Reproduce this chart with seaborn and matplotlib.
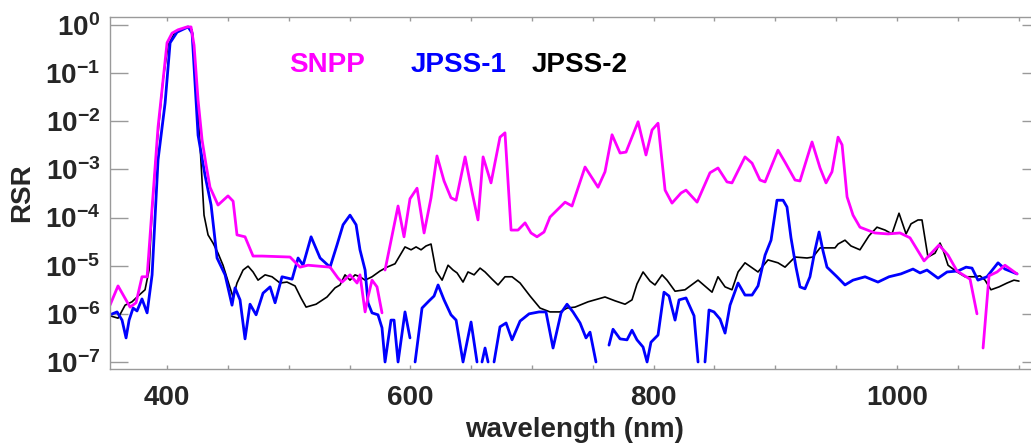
import numpy as np
import pandas as pd
import matplotlib
matplotlib.use("Agg")
import matplotlib.pyplot as plt
import seaborn as sns
from matplotlib.ticker import FixedLocator, FuncFormatter, MultipleLocator, NullFormatter

# ---------------- data (wavelength in nm, log10 of RSR; NaN = gap) ----------------
snpp_nm = [353.1, 359.7, 369.6, 374.5, 379.4, 383.6, 387.7, 392.6, 400.0, 404.1,
           409.0, 416.4, 419.7, 422.2, 425.5, 428.8, 432.1, 435.3, 441.9, 450.1,
           454.3, 457.5, 464.1, 470.7, 478.1, 501.1, 509.3, 515.9, 534.0, 540.6,
           543.9, 550.4, 556.2, 558.6, 562.8, 565.2, 568.5, 572.6, 576.7, 578.0,
           579.2, 589.9, 594.8, 599.7, 605.5, 611.3, 617.0, 621.9, 627.7, 633.4,
           637.6, 645.0, 650.7, 655.6, 659.8, 666.3, 673.7, 677.8, 682.8, 688.5,
           694.3, 699.2, 704.1, 709.9, 714.8, 727.2, 732.9, 743.6, 754.3, 760.0,
           765.8, 772.4, 777.3, 787.2, 793.7, 798.7, 803.6, 809.4, 815.1, 822.5,
           826.6, 835.7, 846.3, 852.9, 860.3, 864.4, 875.1, 880.9, 887.4, 891.6,
           902.2, 908.0, 916.2, 920.3, 930.2, 936.8, 941.7, 946.6, 951.6, 954.9,
           959.0, 963.9, 969.6, 981.9, 992.7, 1002.5, 1010.7, 1022.3, 1034.6, 1042.0,
           1049.4, 1060.1, 1065.8, 1068.0, 1070.8, 1075.7, 1082.3, 1088.8, 1098.7]
snpp_log = [-5.82, -5.42, -5.86, -5.77, -5.23, -5.23, -3.80, -2.12, -0.37, -0.17,
            -0.10, -0.04, -0.04, -0.42, -1.56, -2.39, -2.91, -3.37, -3.74, -3.55,
            -3.66, -4.36, -4.40, -4.80, -4.80, -4.82, -5.03, -4.99, -5.03, -5.26,
            -5.34, -5.19, -5.36, -5.19, -5.96, -5.65, -5.30, -5.44, -5.98, np.nan,
            -5.09, -3.76, -4.40, -3.61, -3.39, -4.32, -3.59, -2.72, -3.24, -3.59,
            -3.64, -2.74, -3.47, -4.05, -2.74, -3.28, -2.33, -2.24, -4.26, -4.26,
            -4.11, -4.32, -4.40, -4.30, -3.99, -3.68, -3.76, -2.95, -3.37, -3.05,
            -2.28, -2.66, -2.64, -2.01, -2.70, -2.18, -2.04, -3.43, -3.70, -3.49,
            -3.43, -3.68, -3.07, -2.97, -3.26, -3.28, -2.74, -2.87, -3.22, -3.26,
            -2.60, -2.85, -3.22, -3.24, -2.43, -2.97, -3.28, -3.05, -2.33, -2.49,
            -3.57, -3.95, -4.20, -4.32, -4.34, -4.32, -4.42, -4.90, -4.57, -4.78,
            -5.11, -5.28, -6.00, np.nan, -6.71, -5.21, -5.13, -4.99, -5.17]

jpss1_nm = [353.1, 358.9, 363.0, 366.3, 368.8, 372.1, 375.3, 379.4, 383.6, 387.7,
            392.6, 398.4, 402.5, 408.2, 417.3, 420.6, 425.5, 431.2, 436.2, 441.1,
            447.7, 453.4, 455.9, 460.0, 464.1, 468.2, 473.2, 478.9, 484.7, 488.8,
            494.5, 502.8, 507.7, 511.8, 518.4, 525.8, 534.0, 539.7, 544.7, 550.4,
            555.4, 558.6, 562.8, 565.2, 568.5, 573.4, 576.7, 579.2, 584.1, 586.6,
            589.9, 595.6, 599.7, 601.5, 603.9, 609.6, 615.4, 619.5, 622.8, 627.7,
            633.4, 637.6, 643.3, 649.9, 654.8, 657.0, 658.9, 661.4, 663.9, 666.0,
            668.8, 673.7, 678.7, 683.6, 690.2, 697.6, 705.8, 711.5, 717.3, 723.9,
            728.8, 733.7, 739.5, 744.4, 747.7, 752.6, 758.0, 763.3, 766.6, 772.4,
            778.1, 782.2, 786.3, 791.3, 794.6, 797.8, 803.6, 808.5, 812.6, 817.6,
            820.9, 826.6, 833.2, 836.5, 839.0, 842.2, 845.5, 849.6, 854.6, 858.7,
            862.8, 869.4, 875.1, 880.9, 885.8, 891.6, 896.5, 901.4, 906.4, 909.6,
            912.9, 917.0, 920.3, 924.4, 928.5, 932.7, 936.0, 939.2, 942.5, 950.7,
            957.3, 963.9, 973.8, 984.4, 993.5, 1003.3, 1013.2, 1019.0, 1024.7, 1033.8,
            1041.2, 1050.2, 1056.8, 1061.7, 1066.6, 1074.0, 1083.1, 1088.8, 1098.7]
jpss1_log = [-6.02, -5.96, -6.13, -6.50, -6.13, -5.88, -5.94, -5.69, -5.98, -5.19,
             -2.80, -1.62, -0.37, -0.15, -0.04, -0.17, -2.29, -3.12, -3.74, -4.84,
             -5.19, -5.82, -5.46, -5.71, -6.52, -5.80, -6.02, -5.57, -5.44, -5.77,
             -5.23, -5.28, -4.84, -4.99, -4.40, -4.84, -5.03, -4.57, -4.15, -3.95,
             -4.15, -4.67, -5.09, -5.77, -5.98, -6.02, -6.29, -7.00, -6.13, -6.13,
             -7.00, -5.96, -6.50, np.nan, -7.00, -5.88, -5.73, -5.63, -5.40, -5.71,
             -6.02, -6.13, -7.00, -6.17, -7.00, np.nan, -7.00, -6.71, -7.00, np.nan,
             -7.00, -6.27, -6.19, -6.54, -6.15, -6.00, -5.96, -5.96, -6.71, -5.98,
             -5.80, -5.96, -6.19, -6.50, -6.38, -7.00, np.nan, -6.65, -6.32, -6.52,
             -6.54, -6.34, -6.54, -6.69, -7.00, -6.59, -6.44, -5.55, -5.63, -6.13,
             -5.71, -5.67, -6.04, -7.00, np.nan, -7.00, -5.92, -5.96, -6.11, -6.40,
             -5.82, -5.36, -5.61, -5.61, -5.42, -4.78, -4.47, -3.64, -3.64, -3.78,
             -4.42, -5.03, -5.44, -5.48, -5.23, -4.67, -4.30, -4.69, -5.03, -5.23,
             -5.40, -5.30, -5.23, -5.34, -5.23, -5.17, -5.07, -5.15, -5.09, -5.26,
             -5.13, -5.11, -5.03, -5.05, -5.30, -5.23, -4.94, -5.07, -5.17]

jpss2_nm = [353.1, 359.7, 365.5, 371.2, 376.2, 381.9, 385.2, 387.7, 391.8, 396.7,
            400.8, 406.6, 416.4, 420.6, 423.8, 427.1, 430.4, 433.7, 437.8, 441.9,
            446.0, 451.8, 454.3, 457.5, 462.5, 466.6, 470.7, 474.8, 480.6, 486.3,
            492.9, 498.6, 505.2, 510.1, 514.3, 522.5, 531.5, 538.1, 542.2, 546.3,
            550.4, 554.5, 558.6, 562.8, 568.5, 575.1, 580.8, 587.4, 595.6, 600.6,
            604.7, 608.8, 612.9, 617.0, 621.1, 626.1, 631.0, 635.1, 638.4, 643.3,
            647.4, 652.4, 657.3, 661.4, 667.2, 672.1, 677.8, 683.6, 690.2, 698.4,
            706.6, 714.8, 723.0, 728.8, 735.4, 746.1, 760.0, 768.3, 776.5, 782.2,
            786.3, 791.3, 797.0, 801.1, 806.9, 811.0, 817.6, 825.8, 836.5, 848.0,
            852.9, 858.7, 864.4, 869.4, 875.1, 885.8, 894.0, 902.2, 908.0, 916.2,
            926.1, 931.0, 936.8, 943.3, 949.1, 951.6, 957.3, 962.2, 969.6, 977.0,
            983.6, 990.2, 995.9, 1001.7, 1007.5, 1011.6, 1017.3, 1020.6, 1025.5, 1031.3,
            1035.4, 1037.9, 1042.0, 1049.4, 1056.0, 1064.2, 1068.3, 1072.4, 1077.3, 1083.9,
            1090.5, 1096.2, 1100.3]
jpss2_log = [-6.04, -6.09, -5.82, -5.75, -5.63, -5.50, -5.09, -3.84, -2.45, -1.14,
             -0.42, -0.15, -0.04, -0.10, -1.14, -2.49, -3.95, -4.36, -4.53, -4.74,
             -4.99, -5.46, -5.65, -5.36, -5.09, -5.01, -5.13, -5.30, -5.19, -5.23,
             -5.36, -5.34, -5.42, -5.67, -5.86, -5.80, -5.65, -5.46, -5.40, -5.19,
             -5.30, -5.19, -5.23, -5.30, -5.23, -5.11, -5.03, -4.96, -4.61, -4.67,
             -4.61, -4.67, -4.59, -4.55, -5.11, -5.30, -4.99, -5.09, -5.15, -5.34,
             -5.13, -5.19, -5.05, -5.13, -5.28, -5.40, -5.23, -5.23, -5.36, -5.63,
             -5.88, -5.96, -5.96, -5.88, -5.86, -5.75, -5.65, -5.73, -5.80, -5.71,
             -5.38, -5.13, -5.32, -5.40, -5.19, -5.30, -5.53, -5.50, -5.30, -5.55,
             -5.23, -5.44, -5.50, -5.13, -4.94, -5.13, -4.88, -4.94, -5.03, -4.82,
             -4.84, -4.82, -4.63, -4.63, -4.63, -4.55, -4.47, -4.59, -4.67, -4.38,
             -4.20, -4.26, -4.34, -3.91, -4.34, -4.13, -4.05, -4.05, -4.82, -4.74,
             -4.53, -4.67, -4.99, -5.13, -5.23, -5.23, -5.21, -5.30, -5.50, -5.44,
             -5.36, -5.30, -5.32]

series_names = ["SNPP", "JPSS-1", "JPSS-2"]
series_colors = ["#ff00ff", "#0000ff", "#000000"]
x_tick_labels = [400, 600, 800, 1000]
y_decades = [-7, -6, -5, -4, -3, -2, -1, 0]


def make_frame(nm, lg):
    df = pd.DataFrame({"wavelength": nm, "logrsr": lg})
    df["seg"] = df["logrsr"].isna().cumsum()
    df = df.dropna().copy()
    df["RSR"] = 10.0 ** df["logrsr"]
    return df


frames = {
    "SNPP": make_frame(snpp_nm, snpp_log),
    "JPSS-1": make_frame(jpss1_nm, jpss1_log),
    "JPSS-2": make_frame(jpss2_nm, jpss2_log),
}

sns.set_theme(style="ticks")
plt.rcParams["font.family"] = ["Liberation Sans", "DejaVu Sans"]
plt.rcParams["font.weight"] = "bold"
plt.rcParams["mathtext.fontset"] = "custom"
plt.rcParams["mathtext.rm"] = "Liberation Sans:bold"
plt.rcParams["mathtext.bf"] = "Liberation Sans:bold"
plt.rcParams["mathtext.it"] = "Liberation Sans:bold"
plt.rcParams["mathtext.sf"] = "Liberation Sans:bold"

FS = 20

fig = plt.figure(figsize=(10.31, 4.43), dpi=100)
ax = fig.add_axes([110 / 1031, (443 - 369.3) / 443, 930 / 1031, 352.3 / 443])

widths = {"SNPP": 2.0, "JPSS-1": 2.0, "JPSS-2": 1.2}
order = ["JPSS-2", "JPSS-1", "SNPP"]
for name in order:
    color = series_colors[series_names.index(name)]
    sns.lineplot(data=frames[name], x="wavelength", y="RSR", units="seg",
                 estimator=None, sort=False, color=color,
                 linewidth=widths[name], ax=ax, legend=False)

ax.set_yscale("log")
ax.set_xlim(353.1, 1117.6)
ax.set_ylim(10 ** -7.152, 10 ** 0.166)

ax.yaxis.set_major_locator(FixedLocator([10.0 ** d for d in y_decades]))
ax.yaxis.set_major_formatter(FuncFormatter(lambda v, p: r"$\mathbf{10^{%d}}$" % int(round(np.log10(v)))))
ax.yaxis.set_minor_locator(FixedLocator([]))
ax.xaxis.set_major_locator(FixedLocator(x_tick_labels))
ax.xaxis.set_minor_locator(MultipleLocator(50))
ax.xaxis.set_minor_formatter(NullFormatter())

gray = "#9a9a9a"
for sp in ax.spines.values():
    sp.set_color(gray)
    sp.set_linewidth(1.0)

ax.tick_params(axis="y", which="major", direction="in", length=13, width=1.0,
               color=gray, left=True, right=True, labelsize=FS, pad=7)
ax.tick_params(axis="x", which="both", direction="in", length=3, width=1.0,
               color=gray, top=True, bottom=True, labelsize=FS, pad=11)

ax.set_xlabel("wavelength (nm)", fontsize=FS, fontweight="bold")
ax.set_ylabel("RSR", fontsize=FS, fontweight="bold")
ax.xaxis.set_label_coords(0.5, -0.135)
ax.yaxis.set_label_coords(-0.081, 0.5)

label_x = [500, 600, 700]
for name, lx in zip(series_names, label_x):
    ax.text(lx, 10 ** -0.83, name, color=series_colors[series_names.index(name)],
            fontsize=FS, fontweight="bold", ha="left", va="center")

fig.savefig("out.png", dpi=100)
